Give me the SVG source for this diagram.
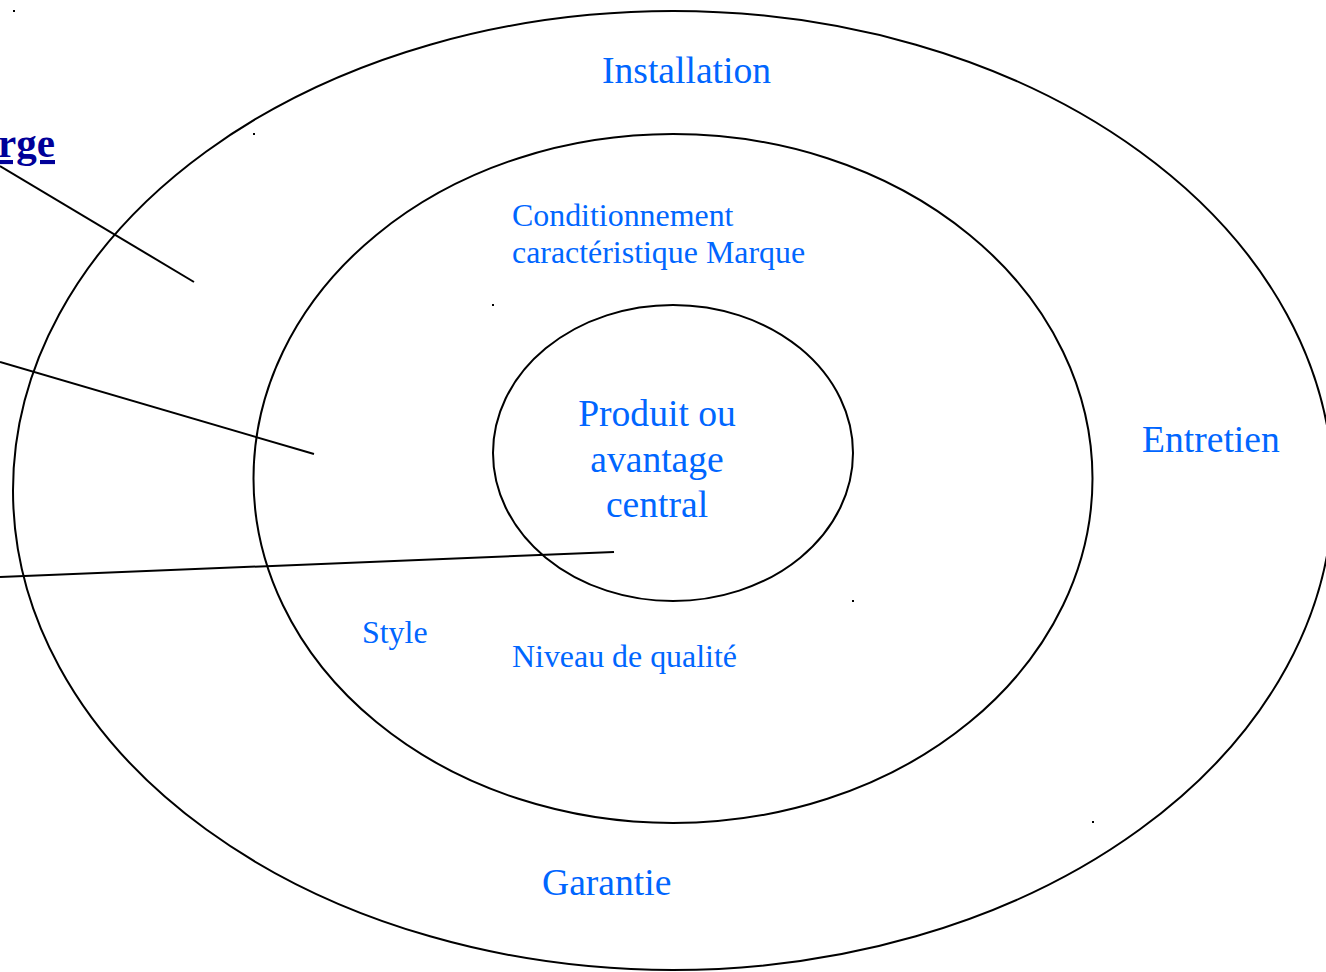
<svg xmlns="http://www.w3.org/2000/svg" width="1326" height="972" viewBox="0 0 1326 972">
<style>
.ring{fill:none;stroke:#000;stroke-width:2}
.conn{stroke:#000;stroke-width:2;fill:none}
.lbl{font-family:"Liberation Serif","Times New Roman",serif;fill:#0066ff}
.l37{font-size:37.6px}
.l32{font-size:31.9px}
.dot{fill:#000}
.hdr{font-family:"Liberation Serif","Times New Roman",serif;font-weight:bold;font-size:41px;fill:#000099;text-decoration:underline}
</style>
<rect width="1326" height="972" fill="#fff"/>
<g id="outer-ring">
<ellipse class="ring" cx="673" cy="490.5" rx="660" ry="479.5"/>
<text class="lbl l37" x="602" y="83">Installation</text>
<text class="lbl l37" x="1142" y="452">Entretien</text>
<text class="lbl l37" x="542" y="895">Garantie</text>
</g>
<g id="middle-ring">
<ellipse class="ring" cx="673" cy="478.5" rx="419.5" ry="344.5"/>
<text class="lbl l32" x="512" y="226">Conditionnement</text>
<text class="lbl l32" x="512" y="263">caractéristique Marque</text>
<text class="lbl l32" x="362" y="643">Style</text>
<text class="lbl l32" x="512" y="667">Niveau de qualité</text>
</g>
<g id="inner-ring">
<ellipse class="ring" cx="673" cy="453" rx="180" ry="148"/>
<text class="lbl l37" text-anchor="middle" x="657" y="426">Produit ou</text>
<text class="lbl l37" text-anchor="middle" x="657" y="472">avantage</text>
<text class="lbl l37" text-anchor="middle" x="657" y="517">central</text>
</g>
<g id="title">
<text class="hdr" x="55" y="157" text-anchor="end">arge</text>
</g>
<g id="connectors">
<line class="conn" x1="0" y1="166" x2="194" y2="282"/>
<line class="conn" x1="0" y1="362" x2="314" y2="454"/>
<line class="conn" x1="0" y1="577" x2="614" y2="552"/>
</g>
<g id="marks">
<rect class="dot" x="13" y="10" width="2" height="2"/>
<rect class="dot" x="253" y="133" width="2" height="2"/>
<rect class="dot" x="492" y="304" width="2" height="2"/>
<rect class="dot" x="852" y="600" width="2" height="2"/>
<rect class="dot" x="1092" y="821" width="2" height="2"/>
</g>
</svg>
